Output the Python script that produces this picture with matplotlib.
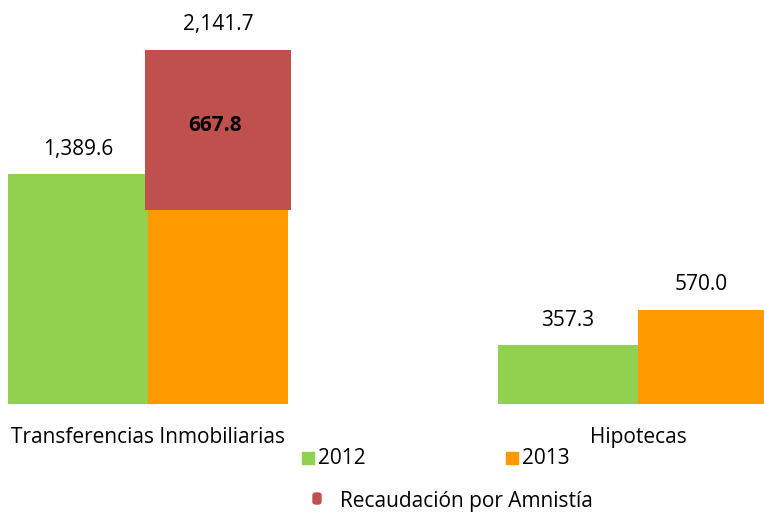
import matplotlib
matplotlib.use("Agg")
import matplotlib.pyplot as plt
from matplotlib.patches import Rectangle, FancyBboxPatch

categories = ["Transferencias Inmobiliarias", "Hipotecas"]
v2012 = [1389.6, 357.3]
v2013 = [1176.0, 570.0]          # part of the 2013 bar under the amnesty block
amnistia = [965.7, 0.0]          # drawn height of the amnesty block
amnistia_lbl = ["667.8", ""]
total_lbl = ["2,141.7", "570.0"]
lbl_2012 = ["1,389.6", "357.3"]

green = "#92D050"
orange = "#FF9900"
red = "#C0504D"

plt.rcParams['font.family'] = ['Open Sans', 'DejaVu Sans']
fs = 15

fig = plt.figure(figsize=(7.64, 5.12), dpi=100)
ax = fig.add_axes([0, 0.2109, 1, 0.7891])
w = 0.2857
xs = [0, 1]
ax.bar([x - w/2 for x in xs], v2012, width=w, color=green)
ax.bar([x + w/2 for x in xs], v2013, width=w, color=orange)
ax.bar([x + w/2 for x in xs], amnistia, width=0.296, bottom=v2013, color=red)
ax.set_xlim(-0.302, 1.257)
ax.set_ylim(0, 2444)
ax.axis("off")

xmax = ax.get_xlim()[1]
for i, x in enumerate(xs):
    ax.annotate(lbl_2012[i], (x - w/2, v2012[i]), xytext=(0, 10), textcoords="offset points",
                ha="center", va="bottom", fontsize=fs)
    left = x
    right = min(x + w, xmax)
    top = v2013[i] + amnistia[i]
    ax.annotate(total_lbl[i], ((left + right)/2, top), xytext=(0, 11), textcoords="offset points",
                ha="center", va="bottom", fontsize=fs)
    if amnistia[i] > 0:
        ax.text(x + w/2 - 0.005, v2013[i] + amnistia[i]*0.53, amnistia_lbl[i], ha="center", va="center",
                fontsize=fs, fontweight="bold")

# category labels
for i, x in enumerate(xs):
    ax.annotate(categories[i], (x, 0), xytext=(0, -24), textcoords="offset points",
                ha="center", va="center", fontsize=fs, annotation_clip=False)

# legend
fig.patches.append(Rectangle((302/764, 1 - 464/512), 12/764, 12/512, transform=fig.transFigure,
                             color=green))
fig.text(318/764, 1 - 458/512, "2012", fontsize=fs, va="center", ha="left")
fig.patches.append(Rectangle((506/764, 1 - 464/512), 12/764, 12/512, transform=fig.transFigure,
                             color=orange))
fig.text(522/764, 1 - 458/512, "2013", fontsize=fs, va="center", ha="left")
fig.patches.append(FancyBboxPatch((313/764, 1 - 504/512), 8/764, 11/512,
                                  boxstyle="round,pad=0,rounding_size=0.004",
                                  transform=fig.transFigure, color=red))
fig.text(340/764, 1 - 502/512, "Recaudación por Amnistía", fontsize=fs, va="center", ha="left")

plt.savefig("out.png", dpi=100)
